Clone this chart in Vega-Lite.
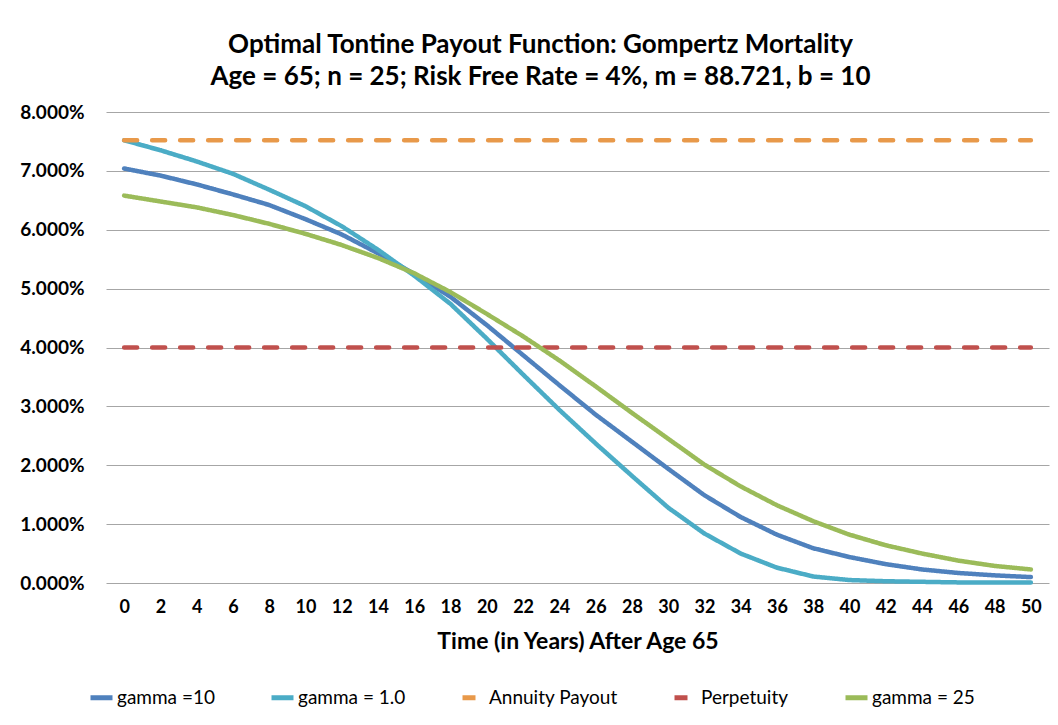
{
  "$schema": "https://vega.github.io/schema/vega-lite/v6.json",
  "width": 943,
  "height": 471,
  "autosize": {"type": "none"},
  "padding": {"left": 106, "top": 112, "right": 9, "bottom": 142},
  "background": "white",
  "title": {
    "text": ["Optimal Tontine Payout Function: Gompertz Mortality", "Age = 65; n = 25; Risk Free Rate = 4%, m = 88.721, b = 10"],
    "font": "Lato", "fontSize": 26, "fontWeight": "bold", "color": "black",
    "anchor": "middle", "dx": -37, "offset": 13, "lineHeight": 32
  },
  "config": {"view": {"stroke": null}, "font": "Lato"},
  "data": {"values": [
    {"t":0,"s":"gamma =10","v":0.0704},{"t":2,"s":"gamma =10","v":0.0692},{"t":4,"s":"gamma =10","v":0.0677},{"t":6,"s":"gamma =10","v":0.0660},{"t":8,"s":"gamma =10","v":0.0642},{"t":10,"s":"gamma =10","v":0.0618},{"t":12,"s":"gamma =10","v":0.0592},{"t":14,"s":"gamma =10","v":0.0560},{"t":16,"s":"gamma =10","v":0.0525},{"t":18,"s":"gamma =10","v":0.0486},{"t":20,"s":"gamma =10","v":0.0438},{"t":22,"s":"gamma =10","v":0.0387},{"t":24,"s":"gamma =10","v":0.0336},{"t":26,"s":"gamma =10","v":0.0286},{"t":28,"s":"gamma =10","v":0.0240},{"t":30,"s":"gamma =10","v":0.0194},{"t":32,"s":"gamma =10","v":0.0149},{"t":34,"s":"gamma =10","v":0.0112},{"t":36,"s":"gamma =10","v":0.0082},{"t":38,"s":"gamma =10","v":0.0059},{"t":40,"s":"gamma =10","v":0.0044},{"t":42,"s":"gamma =10","v":0.0032},{"t":44,"s":"gamma =10","v":0.0023},{"t":46,"s":"gamma =10","v":0.0017},{"t":48,"s":"gamma =10","v":0.0013},{"t":50,"s":"gamma =10","v":0.0010},
    {"t":0,"s":"gamma = 1.0","v":0.0752},{"t":2,"s":"gamma = 1.0","v":0.0735},{"t":4,"s":"gamma = 1.0","v":0.0716},{"t":6,"s":"gamma = 1.0","v":0.0695},{"t":8,"s":"gamma = 1.0","v":0.0668},{"t":10,"s":"gamma = 1.0","v":0.0640},{"t":12,"s":"gamma = 1.0","v":0.0606},{"t":14,"s":"gamma = 1.0","v":0.0566},{"t":16,"s":"gamma = 1.0","v":0.0522},{"t":18,"s":"gamma = 1.0","v":0.0474},{"t":20,"s":"gamma = 1.0","v":0.0415},{"t":22,"s":"gamma = 1.0","v":0.0354},{"t":24,"s":"gamma = 1.0","v":0.0294},{"t":26,"s":"gamma = 1.0","v":0.0237},{"t":28,"s":"gamma = 1.0","v":0.0182},{"t":30,"s":"gamma = 1.0","v":0.0128},{"t":32,"s":"gamma = 1.0","v":0.0084},{"t":34,"s":"gamma = 1.0","v":0.0050},{"t":36,"s":"gamma = 1.0","v":0.0026},{"t":38,"s":"gamma = 1.0","v":0.0011},{"t":40,"s":"gamma = 1.0","v":0.0005},{"t":42,"s":"gamma = 1.0","v":0.0003},{"t":44,"s":"gamma = 1.0","v":0.0002},{"t":46,"s":"gamma = 1.0","v":0.0001},{"t":48,"s":"gamma = 1.0","v":0.0001},{"t":50,"s":"gamma = 1.0","v":0.0001},
    {"t":0,"s":"Annuity Payout","v":0.0752},{"t":2,"s":"Annuity Payout","v":0.0752},{"t":4,"s":"Annuity Payout","v":0.0752},{"t":6,"s":"Annuity Payout","v":0.0752},{"t":8,"s":"Annuity Payout","v":0.0752},{"t":10,"s":"Annuity Payout","v":0.0752},{"t":12,"s":"Annuity Payout","v":0.0752},{"t":14,"s":"Annuity Payout","v":0.0752},{"t":16,"s":"Annuity Payout","v":0.0752},{"t":18,"s":"Annuity Payout","v":0.0752},{"t":20,"s":"Annuity Payout","v":0.0752},{"t":22,"s":"Annuity Payout","v":0.0752},{"t":24,"s":"Annuity Payout","v":0.0752},{"t":26,"s":"Annuity Payout","v":0.0752},{"t":28,"s":"Annuity Payout","v":0.0752},{"t":30,"s":"Annuity Payout","v":0.0752},{"t":32,"s":"Annuity Payout","v":0.0752},{"t":34,"s":"Annuity Payout","v":0.0752},{"t":36,"s":"Annuity Payout","v":0.0752},{"t":38,"s":"Annuity Payout","v":0.0752},{"t":40,"s":"Annuity Payout","v":0.0752},{"t":42,"s":"Annuity Payout","v":0.0752},{"t":44,"s":"Annuity Payout","v":0.0752},{"t":46,"s":"Annuity Payout","v":0.0752},{"t":48,"s":"Annuity Payout","v":0.0752},{"t":50,"s":"Annuity Payout","v":0.0752},
    {"t":0,"s":"Perpetuity","v":0.04},{"t":2,"s":"Perpetuity","v":0.04},{"t":4,"s":"Perpetuity","v":0.04},{"t":6,"s":"Perpetuity","v":0.04},{"t":8,"s":"Perpetuity","v":0.04},{"t":10,"s":"Perpetuity","v":0.04},{"t":12,"s":"Perpetuity","v":0.04},{"t":14,"s":"Perpetuity","v":0.04},{"t":16,"s":"Perpetuity","v":0.04},{"t":18,"s":"Perpetuity","v":0.04},{"t":20,"s":"Perpetuity","v":0.04},{"t":22,"s":"Perpetuity","v":0.04},{"t":24,"s":"Perpetuity","v":0.04},{"t":26,"s":"Perpetuity","v":0.04},{"t":28,"s":"Perpetuity","v":0.04},{"t":30,"s":"Perpetuity","v":0.04},{"t":32,"s":"Perpetuity","v":0.04},{"t":34,"s":"Perpetuity","v":0.04},{"t":36,"s":"Perpetuity","v":0.04},{"t":38,"s":"Perpetuity","v":0.04},{"t":40,"s":"Perpetuity","v":0.04},{"t":42,"s":"Perpetuity","v":0.04},{"t":44,"s":"Perpetuity","v":0.04},{"t":46,"s":"Perpetuity","v":0.04},{"t":48,"s":"Perpetuity","v":0.04},{"t":50,"s":"Perpetuity","v":0.04},
    {"t":0,"s":"gamma = 25","v":0.0658},{"t":2,"s":"gamma = 25","v":0.0648},{"t":4,"s":"gamma = 25","v":0.0638},{"t":6,"s":"gamma = 25","v":0.0625},{"t":8,"s":"gamma = 25","v":0.0610},{"t":10,"s":"gamma = 25","v":0.0593},{"t":12,"s":"gamma = 25","v":0.0574},{"t":14,"s":"gamma = 25","v":0.0552},{"t":16,"s":"gamma = 25","v":0.0526},{"t":18,"s":"gamma = 25","v":0.0494},{"t":20,"s":"gamma = 25","v":0.0457},{"t":22,"s":"gamma = 25","v":0.0419},{"t":24,"s":"gamma = 25","v":0.0378},{"t":26,"s":"gamma = 25","v":0.0334},{"t":28,"s":"gamma = 25","v":0.0289},{"t":30,"s":"gamma = 25","v":0.0245},{"t":32,"s":"gamma = 25","v":0.0201},{"t":34,"s":"gamma = 25","v":0.0164},{"t":36,"s":"gamma = 25","v":0.0132},{"t":38,"s":"gamma = 25","v":0.0105},{"t":40,"s":"gamma = 25","v":0.0082},{"t":42,"s":"gamma = 25","v":0.0064},{"t":44,"s":"gamma = 25","v":0.0050},{"t":46,"s":"gamma = 25","v":0.0038},{"t":48,"s":"gamma = 25","v":0.0029},{"t":50,"s":"gamma = 25","v":0.0023}
  ]},
  "mark": {"type": "line", "strokeWidth": 4.5, "strokeCap": "round", "strokeJoin": "round"},
  "encoding": {
    "x": {
      "field": "t", "type": "ordinal",
      "scale": {"type": "point", "padding": 0.5},
      "axis": {
        "grid": false, "domain": false, "ticks": false,
        "labelAngle": 0, "labelFontSize": 18, "labelFontWeight": "bold", "labelColor": "black", "labelPadding": 15,
        "title": "Time (in Years) After Age 65", "titleFontSize": 23, "titleFontWeight": "bold", "titleColor": "black", "titlePadding": 14
      }
    },
    "y": {
      "field": "v", "type": "quantitative",
      "scale": {"domain": [0, 0.08], "nice": false},
      "axis": {
        "values": [0, 0.01, 0.02, 0.03, 0.04, 0.05, 0.06, 0.07, 0.08],
        "format": ".3%", "grid": true, "gridColor": "#a6a6a6", "gridWidth": 1,
        "domain": false, "ticks": false,
        "labelFontSize": 19, "labelFontWeight": "bold", "labelColor": "black", "labelPadding": 22,
        "title": null
      }
    },
    "color": {
      "field": "s", "type": "nominal",
      "sort": ["gamma =10", "gamma = 1.0", "Annuity Payout", "Perpetuity", "gamma = 25"],
      "scale": {
        "domain": ["gamma =10", "gamma = 1.0", "Annuity Payout", "Perpetuity", "gamma = 25"],
        "range": ["#4F81BD", "#4BACC6", "#E8994A", "#C0504D", "#9BBB59"]
      },
      "legend": {
        "orient": "none", "legendX": -18, "legendY": 572, "direction": "horizontal", "title": null,
        "labelFontSize": 19, "labelColor": "black", "labelOffset": 2,
        "symbolType": "stroke", "symbolStrokeWidth": 5, "symbolSize": 484,
        "columnPadding": 46
      }
    },
    "strokeDash": {
      "field": "s", "type": "nominal",
      "sort": ["gamma =10", "gamma = 1.0", "Annuity Payout", "Perpetuity", "gamma = 25"],
      "scale": {
        "domain": ["gamma =10", "gamma = 1.0", "Annuity Payout", "Perpetuity", "gamma = 25"],
        "range": [[1, 0], [1, 0], [13, 15], [13, 15], [1, 0]]
      },
      "legend": {
        "orient": "none", "legendX": -18, "legendY": 572, "direction": "horizontal", "title": null,
        "labelFontSize": 19, "labelColor": "black", "labelOffset": 2,
        "symbolType": "stroke", "symbolStrokeWidth": 5, "symbolSize": 484,
        "columnPadding": 46
      }
    }
  }
}
